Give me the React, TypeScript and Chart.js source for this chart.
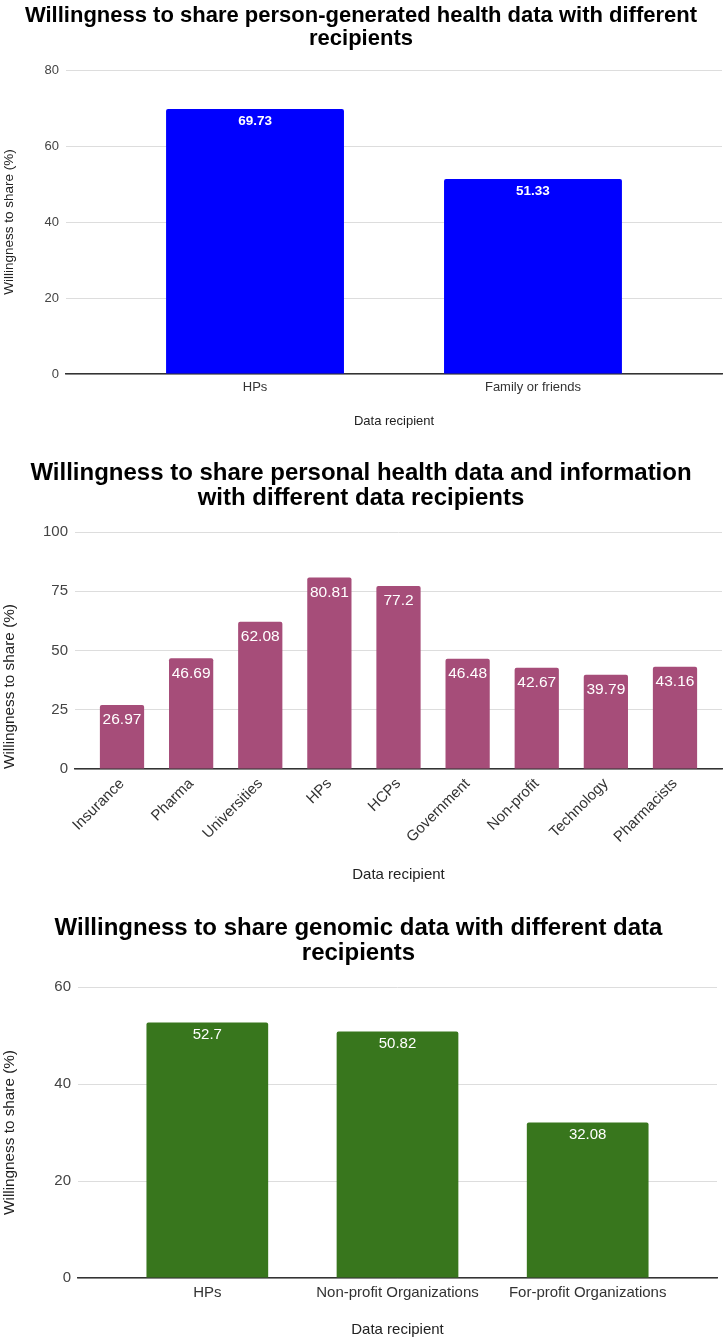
import React, { useEffect, useRef } from 'react';
import { Chart, registerables } from 'chart.js';

Chart.register(...registerables);

document.body.style.margin = '0';

// Chart 1: person-generated health data
const pghdTitle = ['Willingness to share person-generated health data with different', 'recipients'];
const pghdLabels = ['HPs', 'Family or friends'];
const pghdValues = [69.73, 51.33];
const pghdTicks = { max: 80, step: 20 };

// Chart 2: personal health data and information
const phdTitle = ['Willingness to share personal health data and information', 'with different data recipients'];
const phdLabels = ['Insurance', 'Pharma', 'Universities', 'HPs', 'HCPs', 'Government', 'Non-profit', 'Technology', 'Pharmacists'];
const phdValues = [26.97, 46.69, 62.08, 80.81, 77.2, 46.48, 42.67, 39.79, 43.16];
const phdTicks = { max: 100, step: 25 };

// Chart 3: genomic data
const genTitle = ['Willingness to share genomic data with different data', 'recipients'];
const genLabels = ['HPs', 'Non-profit Organizations', 'For-profit Organizations'];
const genValues = [52.7, 50.82, 32.08];
const genTicks = { max: 60, step: 20 };

const FONT = "'Liberation Sans', Arial, sans-serif";
const BAR_FRACTION = 0.64;
const EDGE = 1 - BAR_FRACTION / 2;

const valueLabels = {
  id: 'valueLabels',
  afterDatasetsDraw(chart: any, _args: any, opts: any) {
    const { ctx } = chart;
    const meta = chart.getDatasetMeta(0);
    const values: number[] = opts.values;
    ctx.save();
    ctx.fillStyle = '#ffffff';
    ctx.font = opts.font;
    ctx.textAlign = 'center';
    ctx.textBaseline = 'middle';
    meta.data.forEach((bar: any, i: number) => {
      ctx.fillText(String(values[i]), bar.x, bar.y + opts.offset);
    });
    ctx.restore();
  },
};

interface PanelProps {
  title: string[];
  labels: string[];
  values: number[];
  ticks: { max: number; step: number };
  color: string;
  height: number;
  axisLeft: number;
  padRight: number;
  xHeight: number;
  titleFont: number;
  titleLine: number;
  titlePad: { top: number; bottom: number };
  fontSize: number;
  yTitleSize: number;
  yTitleAlign: 'start' | 'center';
  xTitlePad: number;
  tickPad: number;
  rotate: number;
  labelFont: string;
  labelOffset: number;
}

const BarPanel: React.FC<PanelProps> = (p) => {
  const canvasRef = useRef<HTMLCanvasElement>(null);

  useEffect(() => {
    if (!canvasRef.current) return;
    const chart = new Chart(canvasRef.current, {
      type: 'bar',
      data: {
        datasets: [
          {
            data: p.values.map((v, i) => ({ x: i, y: v })),
            backgroundColor: p.color,
            borderRadius: 2,
            borderSkipped: 'bottom',
            barPercentage: BAR_FRACTION,
            categoryPercentage: 1,
          },
        ],
      },
      options: {
        animation: false,
        responsive: true,
        maintainAspectRatio: false,
        layout: { padding: { left: 0, right: p.padRight, top: 0, bottom: 0 } },
        scales: {
          x: {
            type: 'linear',
            offset: false,
            min: -EDGE,
            max: p.labels.length - 1 + EDGE,
            afterBuildTicks: (scale: any) => {
              scale.ticks = p.labels.map((_, i) => ({ value: i }));
            },
            afterFit: (scale: any) => {
              scale.height = p.xHeight;
            },
            grid: { display: false, drawTicks: false, offset: false },
            border: { display: true, color: '#333333', width: 1.5 },
            ticks: {
              autoSkip: false,
              minRotation: p.rotate,
              maxRotation: p.rotate,
              padding: p.tickPad,
              color: '#333333',
              font: { family: FONT, size: p.fontSize },
              callback: (value: any) => p.labels[value] ?? '',
            },
            title: {
              display: true,
              text: 'Data recipient',
              color: '#222222',
              font: { family: FONT, size: p.fontSize },
              padding: { top: 0, bottom: p.xTitlePad },
            },
          },
          y: {
            min: 0,
            max: p.ticks.max,
            afterFit: (scale: any) => {
              scale.width = p.axisLeft;
            },
            grid: { color: '#dddddd', lineWidth: 1, drawTicks: false },
            border: { display: false },
            ticks: {
              stepSize: p.ticks.step,
              padding: 7,
              color: '#444444',
              font: { family: FONT, size: p.fontSize },
            },
            title: {
              display: true,
              text: 'Willingness to share (%)',
              align: p.yTitleAlign,
              color: '#222222',
              font: { family: FONT, size: p.yTitleSize },
              padding: { top: 1, bottom: 0 },
            },
          },
        },
        plugins: {
          legend: { display: false },
          tooltip: { enabled: false },
          title: {
            display: true,
            text: p.title,
            color: '#000000',
            font: { family: FONT, size: p.titleFont, weight: 'bold', lineHeight: p.titleLine },
            padding: p.titlePad,
          },
          valueLabels: { values: p.values, font: p.labelFont, offset: p.labelOffset },
        } as any,
      },
      plugins: [valueLabels],
    });
    return () => chart.destroy();
  }, []);

  return (
    <div style={{ position: 'relative', width: '100%', height: p.height }}>
      <canvas ref={canvasRef}></canvas>
    </div>
  );
};

export default function App() {
  return (
    <div style={{ width: 725, background: '#ffffff' }}>
      <BarPanel
        title={pghdTitle}
        labels={pghdLabels}
        values={pghdValues}
        ticks={pghdTicks}
        color="#0000ff"
        height={445}
        axisLeft={66}
        padRight={3}
        xHeight={71}
        titleFont={22}
        titleLine={23 / 22}
        titlePad={{ top: 4, bottom: 20 }}
        fontSize={13}
        yTitleSize={13.5}
        yTitleAlign="center"
        xTitlePad={16}
        tickPad={6}
        rotate={0}
        labelFont={`bold 13.5px ${FONT}`}
        labelOffset={12}
      />
      <BarPanel
        title={phdTitle}
        labels={phdLabels}
        values={phdValues}
        ticks={phdTicks}
        color="#a64d79"
        height={450}
        axisLeft={75}
        padRight={3}
        xHeight={126}
        titleFont={24}
        titleLine={25 / 24}
        titlePad={{ top: 15.5, bottom: 21.5 }}
        fontSize={15}
        yTitleSize={15.3}
        yTitleAlign="start"
        xTitlePad={11}
        tickPad={6}
        rotate={45}
        labelFont={`15.5px ${FONT}`}
        labelOffset={15}
      />
      <BarPanel
        title={genTitle}
        labels={genLabels}
        values={genValues}
        ticks={genTicks}
        color="#38761d"
        height={448}
        axisLeft={78}
        padRight={8}
        xHeight={65}
        titleFont={24}
        titleLine={25 / 24}
        titlePad={{ top: 20.5, bottom: 21.5 }}
        fontSize={15}
        yTitleSize={15.3}
        yTitleAlign="center"
        xTitlePad={4}
        tickPad={6}
        rotate={0}
        labelFont={`15px ${FONT}`}
        labelOffset={12}
      />
    </div>
  );
}
